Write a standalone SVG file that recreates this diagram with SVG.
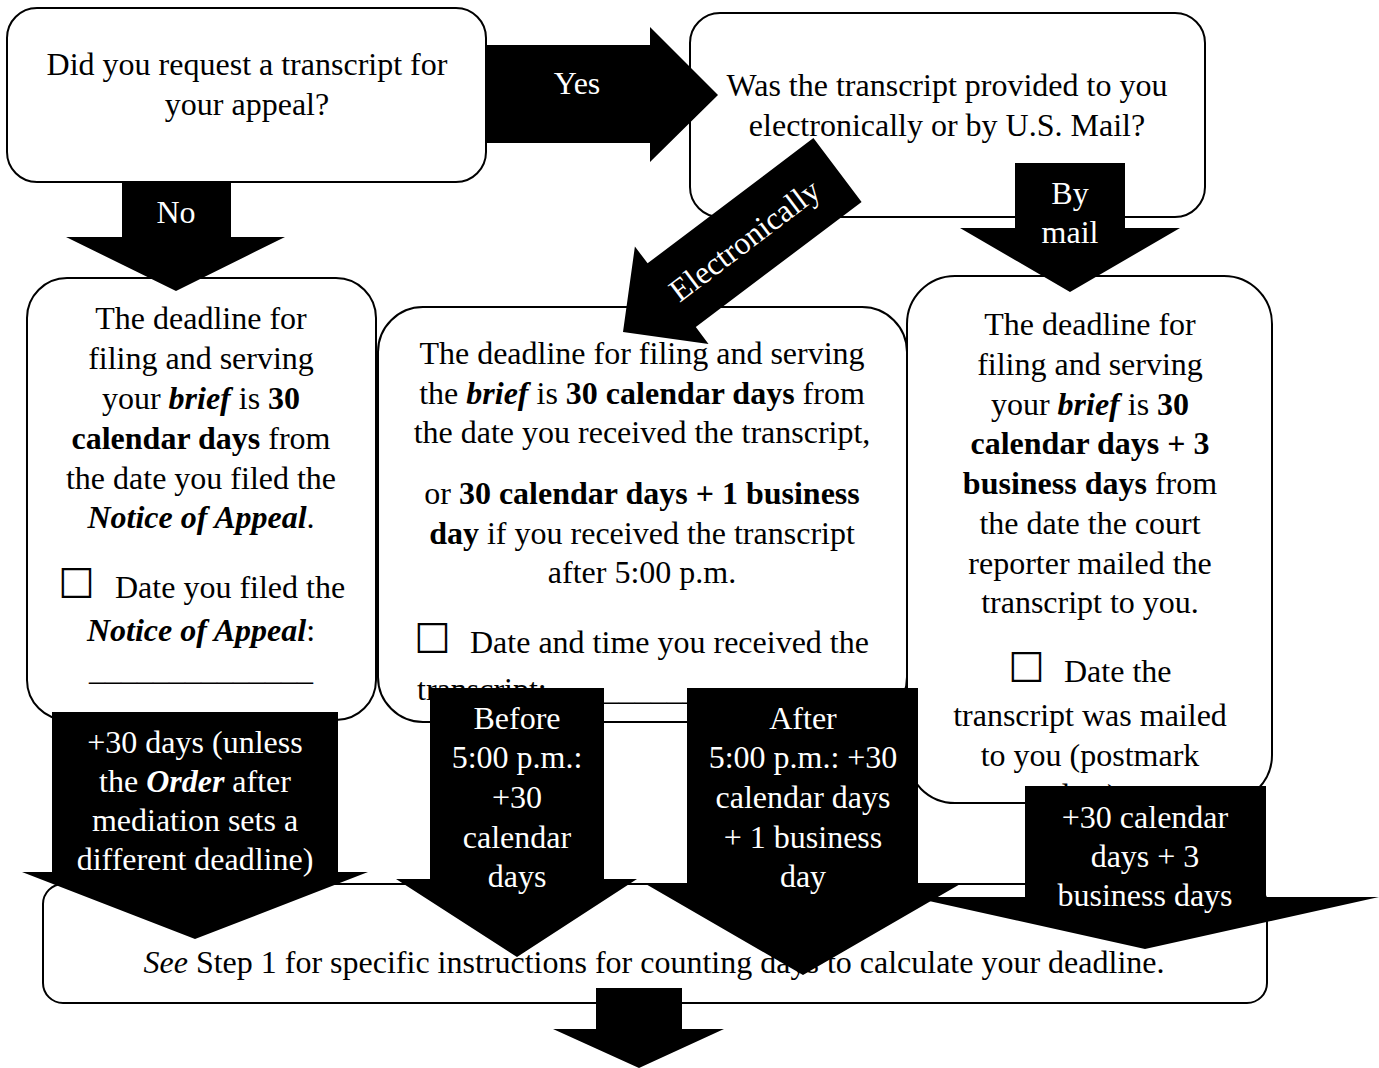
<svg xmlns="http://www.w3.org/2000/svg" width="1379" height="1068" viewBox="0 0 1379 1068">
<style>
.box{fill:#fff;stroke:#000;stroke-width:2}
.arr{fill:#000}
text{font-family:"Liberation Serif","Times New Roman",serif;font-size:32px;fill:#000}
text.m{text-anchor:middle}
text.w{fill:#fff}
.b{font-weight:bold}
.bi{font-weight:bold;font-style:italic}
.i{font-style:italic}
text.cb{font-family:"DejaVu Sans",sans-serif;font-size:41px}
</style>
<rect width="1379" height="1068" fill="#fff"/>
<g id="q1">
<rect class="box" x="7" y="8" width="479" height="174" rx="30"/>
<text class="m" x="247" y="75">Did you request a transcript for</text>
<text class="m" x="247" y="115">your appeal?</text>
</g>
<g id="q2">
<rect class="box" x="690" y="13" width="515" height="204" rx="30"/>
<text class="m" x="947" y="96">Was the transcript provided to you</text>
<text class="m" x="947" y="136">electronically or by U.S. Mail?</text>
</g>
<g id="noTranscript">
<rect class="box" x="27" y="278" width="349" height="442" rx="40"/>
<text class="m" x="201" y="329">The deadline for</text>
<text class="m" x="201" y="369">filing and serving</text>
<text class="m" x="201" y="409">your <tspan class="bi">brief</tspan> is <tspan class="b">30</tspan></text>
<text class="m" x="201" y="449"><tspan class="b">calendar days</tspan> from</text>
<text class="m" x="201" y="489">the date you filed the</text>
<text class="m" x="201" y="528"><tspan class="bi">Notice of Appeal</tspan>.</text>
<text class="cb" x="58" y="598">☐</text>
<text x="115" y="598">Date you filed the</text>
<text class="m" x="201" y="641"><tspan class="bi">Notice of Appeal</tspan>:</text>
<text class="m" x="201" y="680">______________</text>
</g>
<g id="electronic">
<rect class="box" x="378" y="307" width="529" height="415" rx="45"/>
<text class="m" x="642" y="364">The deadline for filing and serving</text>
<text class="m" x="642" y="404">the <tspan class="bi">brief</tspan> is <tspan class="b">30 calendar days</tspan> from</text>
<text class="m" x="642" y="443">the date you received the transcript,</text>
<text class="m" x="642" y="504">or <tspan class="b">30 calendar days + 1 business</tspan></text>
<text class="m" x="642" y="544"><tspan class="b">day</tspan> if you received the transcript</text>
<text class="m" x="642" y="583">after 5:00 p.m.</text>
<text class="cb" x="414" y="653">☐</text>
<text x="470" y="653">Date and time you received the</text>
<text x="417" y="700">transcript: ____________________</text>
</g>
<g id="byMail">
<rect class="box" x="907" y="276" width="365" height="527" rx="48"/>
<text class="m" x="1090" y="335">The deadline for</text>
<text class="m" x="1090" y="375">filing and serving</text>
<text class="m" x="1090" y="415">your <tspan class="bi">brief</tspan> is <tspan class="b">30</tspan></text>
<text class="m" x="1090" y="454"><tspan class="b">calendar days + 3</tspan></text>
<text class="m" x="1090" y="494"><tspan class="b">business days</tspan> from</text>
<text class="m" x="1090" y="534">the date the court</text>
<text class="m" x="1090" y="574">reporter mailed the</text>
<text class="m" x="1090" y="613">transcript to you.</text>
<text class="cb" x="1008" y="682">☐</text>
<text x="1064" y="682">Date the</text>
<text class="m" x="1090" y="726">transcript was mailed</text>
<text class="m" x="1090" y="766">to you (postmark</text>
<text class="m" x="1090" y="806">date):</text>
</g>
<g id="step1">
<rect class="box" x="43" y="884" width="1224" height="119" rx="20"/>
<text class="m" x="654" y="973"><tspan class="i">See</tspan> Step 1 for specific instructions for counting days to calculate your deadline.</text>
</g>
<g id="connectors">
<g id="yes">
<polygon class="arr" points="486,45 650,45 650,27 718,95 650,162 650,143 486,143"/>
<text class="m w" x="577" y="94">Yes</text>
</g>
<g id="no">
<polygon class="arr" points="122,182 231,182 231,237 285,237 176,291 66,237 122,237"/>
<text class="m w" x="176" y="223">No</text>
</g>
<g id="mail">
<polygon class="arr" points="1015,163 1125,163 1125,228 1180,228 1070,292 960,228 1015,228"/>
<text class="m w" x="1070" y="204">By</text>
<text class="m w" x="1070" y="243">mail</text>
</g>
<g id="electronically">
<polygon class="arr" points="813.4,138.1 861.6,201.9 695.8,327.1 708.5,343.9 623,332 634.9,246.5 647.6,263.3"/>
<text class="m w" transform="translate(745,241) rotate(-37.1)" x="0" y="10">Electronically</text>
</g>
<g id="plus30">
<polygon class="arr" points="52,712 338,712 338,872 368,872 195,939 22,872 52,872"/>
<text class="m w" x="195" y="753">+30 days (unless</text>
<text class="m w" x="195" y="792">the <tspan class="bi">Order</tspan> after</text>
<text class="m w" x="195" y="831">mediation sets a</text>
<text class="m w" x="195" y="870">different deadline)</text>
</g>
<g id="before5">
<polygon class="arr" points="430,688 604,688 604,879 637,879 517,957 396,879 430,879"/>
<text class="m w" x="517" y="729">Before</text>
<text class="m w" x="517" y="768">5:00 p.m.:</text>
<text class="m w" x="517" y="808">+30</text>
<text class="m w" x="517" y="848">calendar</text>
<text class="m w" x="517" y="887">days</text>
</g>
<g id="after5">
<polygon class="arr" points="687,688 918,688 918,883 962,883 803,975 644,883 687,883"/>
<text class="m w" x="803" y="729">After</text>
<text class="m w" x="803" y="768">5:00 p.m.: +30</text>
<text class="m w" x="803" y="808">calendar days</text>
<text class="m w" x="803" y="848">+ 1 business</text>
<text class="m w" x="803" y="887">day</text>
</g>
<g id="plus3">
<polygon class="arr" points="1025,786 1266,786 1266,897 1379,897 1145,949 911,897 1025,897"/>
<text class="m w" x="1145" y="828">+30 calendar</text>
<text class="m w" x="1145" y="867">days + 3</text>
<text class="m w" x="1145" y="906">business days</text>
</g>
<g id="next">
<polygon class="arr" points="596,988 682,988 682,1029 724,1029 639,1068 553,1029 596,1029"/>
</g>
</g>
</svg>
